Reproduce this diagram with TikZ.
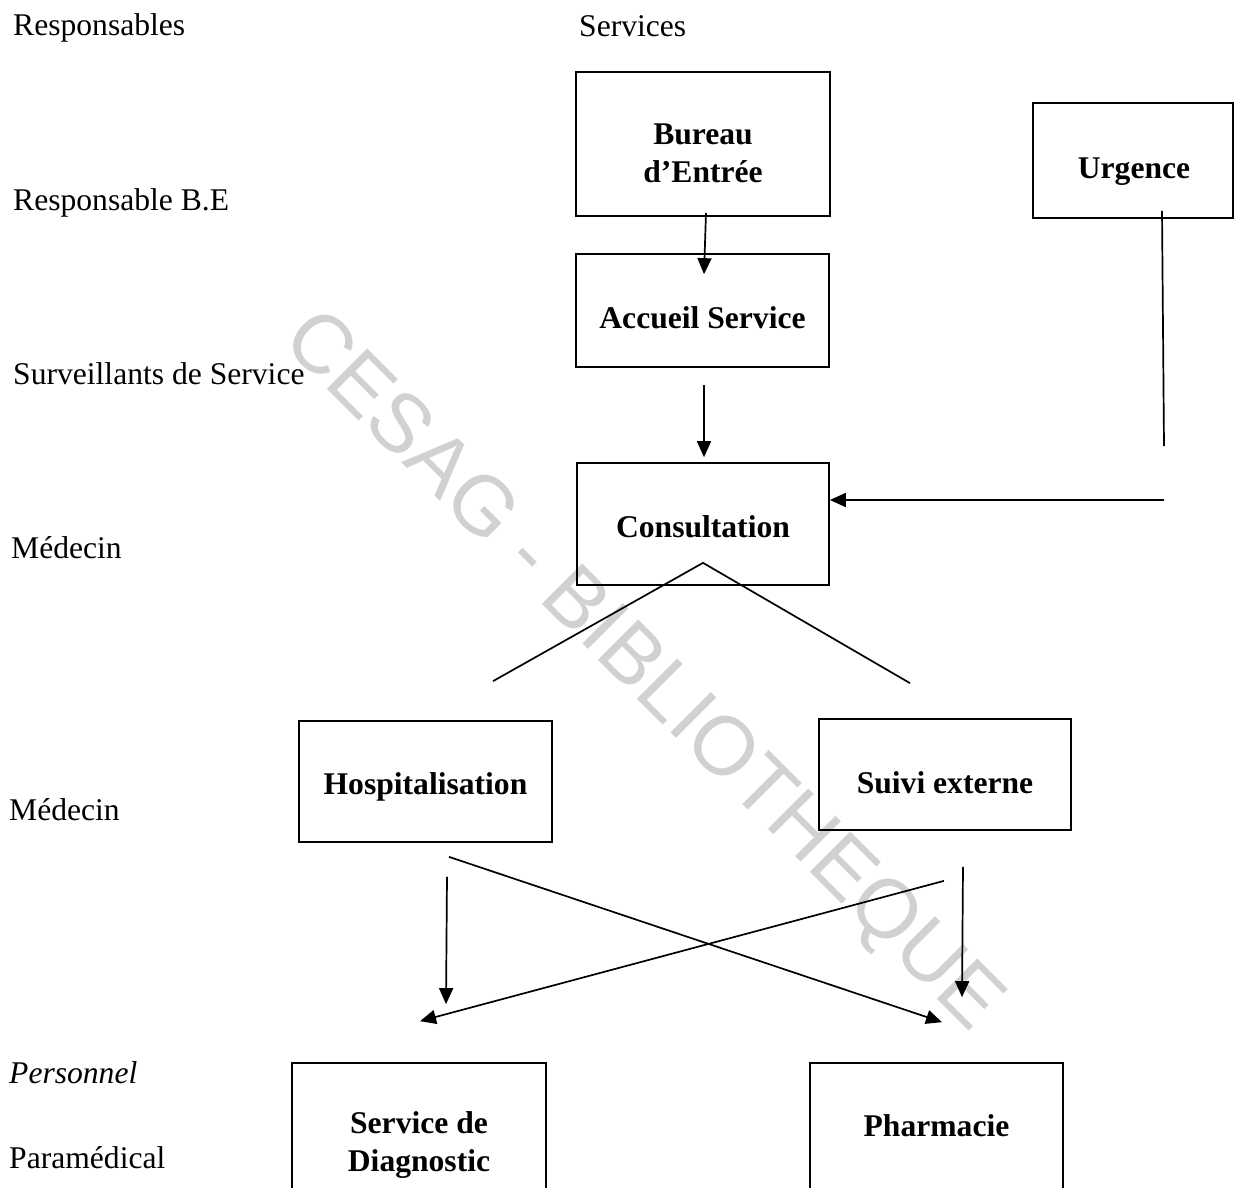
\documentclass[tikz,border=0pt]{standalone}
\usepackage{fontspec}
\setmainfont{Liberation Serif}
\newfontfamily\wmfont{Liberation Sans}
\usetikzlibrary{arrows.meta}
\begin{document}
\begin{tikzpicture}[x=1pt,y=-1pt,
  box/.style={draw, line width=1.7pt, inner sep=0pt},
  boxtext/.style={inner sep=0pt, align=center,
    font=\fontsize{31.6}{38}\selectfont\bfseries},
  lbl/.style={anchor=base west, inner sep=0pt, font=\fontsize{31.6}{38}\selectfont},
  conn/.style={line width=1.7pt},
  arr/.style={conn, -{Triangle[length=16pt,width=14pt]}},
  wmark/.style={rotate=-45, text=black!18, inner sep=0pt,
    font=\wmfont\fontsize{83}{83}\selectfont}]
\useasboundingbox (0,0) rectangle (1234,1187);
\fill[white] (0,0) rectangle (1234,1187);
% watermark
\node[wmark] (wm) at (641,673) {CESAG - BIBLIOTHEQUE};
% left labels
\node[lbl] (h1) at (13,35) {Responsables};
\node[lbl] (h2) at (579,36) {Services};
\node[lbl] (r1) at (13,210) {Responsable B.E};
\node[lbl] (r2) at (13,384) {Surveillants de Service};
\node[lbl] (r3) at (11,558) {Médecin};
\node[lbl] (r4) at (9,820) {Médecin};
\node[lbl] (r5) at (9,1083) {\itshape Personnel};
\node[lbl] (r6) at (9,1168) {Paramédical};
% boxes
\node[box, minimum width=254pt, minimum height=144pt] (bureau) at (703,144) {};
\node[box, minimum width=253pt, minimum height=113pt] (accueil) at (702.5,310.5) {};
\node[box, minimum width=200pt, minimum height=115pt] (urgence) at (1133,160.5) {};
\node[box, minimum width=252pt, minimum height=122pt] (consultation) at (703,524) {};
\node[box, minimum width=253pt, minimum height=121pt] (hosp) at (425.5,781.5) {};
\node[box, minimum width=252pt, minimum height=111pt] (suivi) at (945,774.5) {};
\node[box, minimum width=254pt, minimum height=158pt] (diag) at (419,1142) {};
\node[box, minimum width=253pt, minimum height=130pt] (pharm) at (936.5,1128) {};
% box texts
\node[boxtext] (bureau-t) at ([yshift=-9pt]bureau.center) {Bureau\\d’Entrée};
\node[boxtext] (accueil-t) at ([yshift=-7pt]accueil.center) {Accueil Service};
\node[boxtext] (urgence-t) at ([xshift=1pt,yshift=-11pt]urgence.center) {Urgence};
\node[boxtext] (consultation-t) at ([yshift=-3pt]consultation.center) {Consultation};
\node[boxtext] (hosp-t) at ([yshift=-5pt]hosp.center) {Hospitalisation};
\node[boxtext] (suivi-t) at ([yshift=-8pt]suivi.center) {Suivi externe};
\node[boxtext] (diag-t) at ([yshift=-3pt]diag.center) {Service de\\Diagnostic};
\node[boxtext] (pharm-t) at ([yshift=2pt]pharm.center) {Pharmacie};
% connectors
\draw[arr] ([xshift=3pt,yshift=4pt]bureau.south) -- ([xshift=1.5pt,yshift=-21pt]accueil.north);
\draw[arr] ([xshift=1.5pt,yshift=-17pt]accueil.south) -- ([xshift=1pt,yshift=5pt]consultation.north);
\coordinate (ujoin) at (1164,446);
\coordinate (uin) at (1164,500);
\draw[conn] ([xshift=29pt,yshift=8pt]urgence.south) -- (ujoin);
\draw[arr] (uin) -- ([yshift=24pt]consultation.east);
\draw[conn] ([xshift=67.5pt,yshift=39pt]hosp.north) -- ([yshift=23pt]consultation.south) -- ([xshift=-35pt,yshift=35pt]suivi.north);
\draw[arr] ([xshift=21.5pt,yshift=-34pt]hosp.south) -- ([xshift=27pt,yshift=58pt]diag.north);
\draw[arr] ([xshift=23.5pt,yshift=-14pt]hosp.south) -- ([xshift=5.5pt,yshift=40pt]pharm.north);
\draw[arr] ([xshift=18pt,yshift=-36pt]suivi.south) -- ([xshift=25.5pt,yshift=65pt]pharm.north);
\draw[arr] ([xshift=-1pt,yshift=-50pt]suivi.south) -- ([xshift=1pt,yshift=41pt]diag.north);
\end{tikzpicture}
\end{document}
